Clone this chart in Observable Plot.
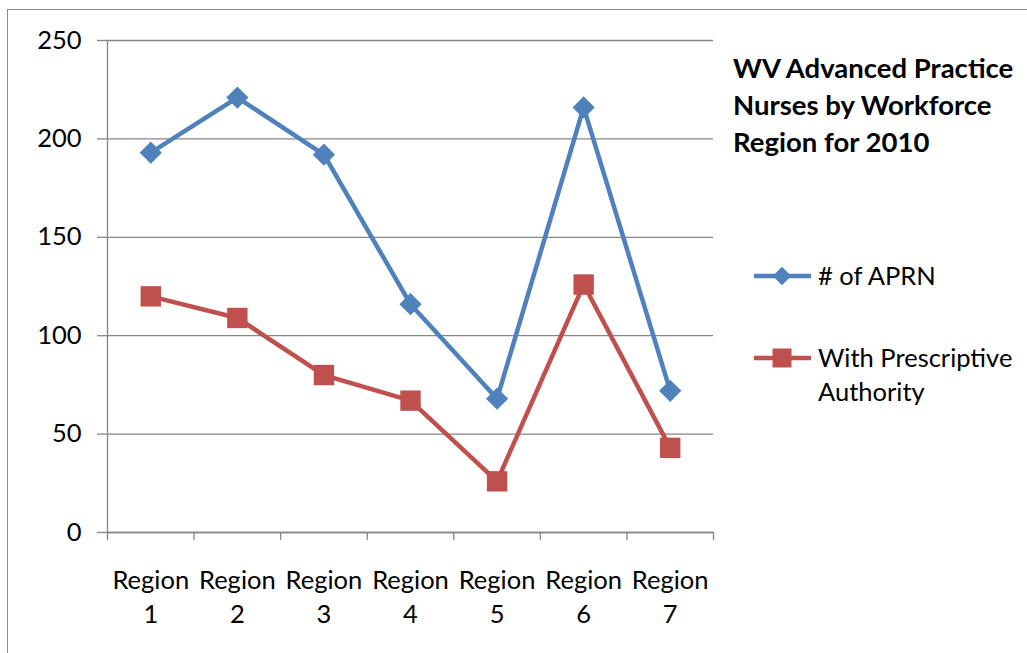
<!DOCTYPE html>
<html>
<head>
<meta charset="utf-8">
<script src="https://cdn.jsdelivr.net/npm/d3@7"></script>
<script src="https://cdn.jsdelivr.net/npm/@observablehq/plot@0.6"></script>
<style>
  body { margin: 0; background: #fff; }
  #wrap { position: relative; width: 1027px; height: 653px; overflow: hidden; font-family: Lato, "Open Sans", sans-serif; color: #000; }
  #frame { position: absolute; left: 7px; top: 9px; width: 1200px; height: 800px; border: 1.5px solid #8c8c8c; box-sizing: border-box; }
  #chart { position: absolute; left: 0; top: 0; }
  #title { position: absolute; left: 733px; top: 49px; font-weight: bold; font-size: 27.5px; line-height: 37px; white-space: nowrap; }
  #legend { position: absolute; left: 0; top: 0; }
</style>
</head>
<body>
<div id="wrap">
  <div id="frame"></div>
  <div id="chart"></div>
  <div id="title">WV Advanced Practice<br>Nurses by Workforce<br>Region for 2010</div>
  <svg id="legend" width="1027" height="653"></svg>
</div>
<script>
const regions = ["Region 1", "Region 2", "Region 3", "Region 4", "Region 5", "Region 6", "Region 7"];
const aprn = [193, 221, 192, 116, 68, 216, 72];
const prescriptive = [120, 109, 80, 67, 26, 126, 43];
const seriesNames = ["# of APRN", "With Prescriptive Authority"];
const seriesColors = ["#4F81BD", "#C0504D"];
const yTicks = [0, 50, 100, 150, 200, 250];

const rowsA = regions.map((r, i) => ({region: r, pos: i + 1, value: aprn[i], series: seriesNames[0]}));
const rowsP = regions.map((r, i) => ({region: r, pos: i + 1, value: prescriptive[i], series: seriesNames[1]}));
const positions = regions.map((r, i) => i + 1);
const edges = d3.range(0.5, regions.length + 1, 1);

const chart = Plot.plot({
  width: 1027,
  height: 653,
  marginLeft: 107,
  marginRight: 314,
  marginTop: 40,
  marginBottom: 121,
  x: {type: "linear", domain: [0.5, regions.length + 0.5], label: null},
  y: {domain: [0, 250], label: null},
  color: {domain: seriesNames, range: seriesColors},
  style: {fontFamily: "Lato, 'Open Sans', sans-serif", fontSize: "25px", color: "#000", background: "transparent"},
  marks: [
    Plot.gridY(yTicks, {stroke: "#868686", strokeOpacity: 1, strokeWidth: 1.3}),
    Plot.axisY(yTicks, {tickSize: 10, tickPadding: 16, stroke: "#868686", strokeWidth: 1.3, fontSize: 25.5, label: null}),
    Plot.ruleX([0.5], {stroke: "#868686", strokeWidth: 1.3}),
    Plot.ruleY([0], {stroke: "#868686", strokeWidth: 1.3}),
    Plot.axisX(edges, {tickSize: 8, tickFormat: () => "", stroke: "#868686", strokeWidth: 1.3, label: null}),
    Plot.axisX(positions, {tickSize: 0, tickPadding: 32, tickFormat: (p) => regions[p - 1].replace(" ", "\n"), fontSize: 25.5, lineHeight: 1.34, label: null}),
    Plot.line(rowsA, {x: "pos", y: "value", stroke: "series", strokeWidth: 4.5}),
    Plot.line(rowsP, {x: "pos", y: "value", stroke: "series", strokeWidth: 4.5}),
    Plot.dot(rowsA, {x: "pos", y: "value", symbol: "diamond2", r: 10, fill: "series", stroke: null}),
    Plot.dot(rowsP, {x: "pos", y: "value", symbol: "square", r: 11.5, fill: "series", stroke: null})
  ]
});
document.getElementById("chart").appendChild(chart);

// Legend
const leg = d3.select("#legend");
const legendItems = [
  {lines: ["# of APRN"], color: seriesColors[0], symbol: d3.symbolDiamond2, size: 9 * 9 * Math.PI * 0.85, y: 276},
  {lines: ["With Prescriptive", "Authority"], color: seriesColors[1], symbol: d3.symbolSquare, size: 19 * 19, y: 358}
];
legendItems.forEach(it => {
  const g = leg.append("g");
  g.append("line").attr("x1", 754).attr("x2", 811).attr("y1", it.y).attr("y2", it.y)
    .attr("stroke", it.color).attr("stroke-width", 4.5);
  g.append("path").attr("d", d3.symbol(it.symbol, it.size)()).attr("transform", `translate(782,${it.y})`).attr("fill", it.color);
  it.lines.forEach((t, k) => {
    g.append("text").attr("x", 818).attr("y", it.y + k * 34).attr("dy", "0.35em")
      .attr("font-family", "Lato, 'Open Sans', sans-serif").attr("font-size", 25.5).attr("fill", "#000").text(t);
  });
});
</script>
</body>
</html>
